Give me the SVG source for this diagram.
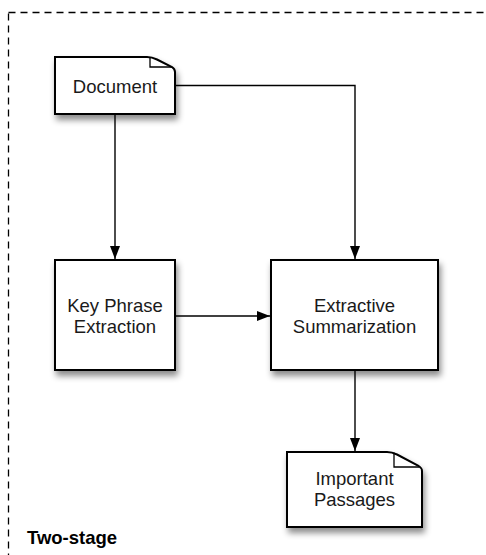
<svg xmlns="http://www.w3.org/2000/svg" width="486" height="555" viewBox="0 0 486 555">
  <defs>
    <filter id="shadow" x="-20%" y="-20%" width="150%" height="160%">
      <feDropShadow dx="2" dy="5" stdDeviation="3" flood-color="#000" flood-opacity="0.45"/>
    </filter>
    <marker id="arrow" markerUnits="userSpaceOnUse" markerWidth="14" markerHeight="12" refX="13" refY="6" orient="auto">
      <path d="M0,1 L13,6 L0,11 Z" fill="#000"/>
    </marker>
  </defs>
  <style>
    .box { fill: #fff; stroke: #000; stroke-width: 2; filter: url(#shadow); }
    .fold { fill: none; stroke: #000; stroke-width: 1.3; }
    .label { font-family: "Liberation Sans", Arial, sans-serif; font-size: 18.5px; fill: #1a1a1a; text-anchor: middle; }
    .edge { fill: none; stroke: #000; stroke-width: 1.4; marker-end: url(#arrow); }
    .frame { fill: none; stroke: #000; stroke-width: 1.3; stroke-dasharray: 7 5; }
    .title { font-family: "Liberation Sans", Arial, sans-serif; font-size: 18.5px; font-weight: bold; fill: #000; }
  </style>

  <!-- dashed group frame, running past the right and bottom edges -->
  <rect class="frame" x="8.5" y="12.5" width="500" height="560"/>
  <text class="title" x="27" y="544">Two-stage</text>

  <g id="connectors">
    <path class="edge" d="M115,114 V259"/>
    <path class="edge" d="M175,85.5 H355 V259"/>
    <path class="edge" d="M175,316 H270"/>
    <path class="edge" d="M355,370 V451"/>
  </g>

  <g id="document">
    <path class="box" d="M55,57 H147 C151,57 154,58 157,59.5 L172,67 Q175,69 175,72 V114 H55 Z"/>
    <path class="fold" d="M150,57.5 V67 H172"/>
    <text class="label" x="115" y="93">Document</text>
  </g>

  <g id="key-phrase-extraction">
    <rect class="box" x="55" y="260" width="120" height="110"/>
    <text class="label" x="115" y="311.5">Key Phrase</text>
    <text class="label" x="115" y="332.5">Extraction</text>
  </g>

  <g id="extractive-summarization">
    <rect class="box" x="271" y="260" width="167" height="110"/>
    <text class="label" x="354.5" y="311.5">Extractive</text>
    <text class="label" x="354.5" y="332.5">Summarization</text>
  </g>

  <g id="important-passages">
    <path class="box" d="M287,452 H387 C391,452 394,453 397,454.5 L418,465.5 Q422,468 422,471 V527 H287 Z"/>
    <path class="fold" d="M394,452.5 V467 H419"/>
    <text class="label" x="354.5" y="485">Important</text>
    <text class="label" x="354.5" y="506">Passages</text>
  </g>
</svg>
